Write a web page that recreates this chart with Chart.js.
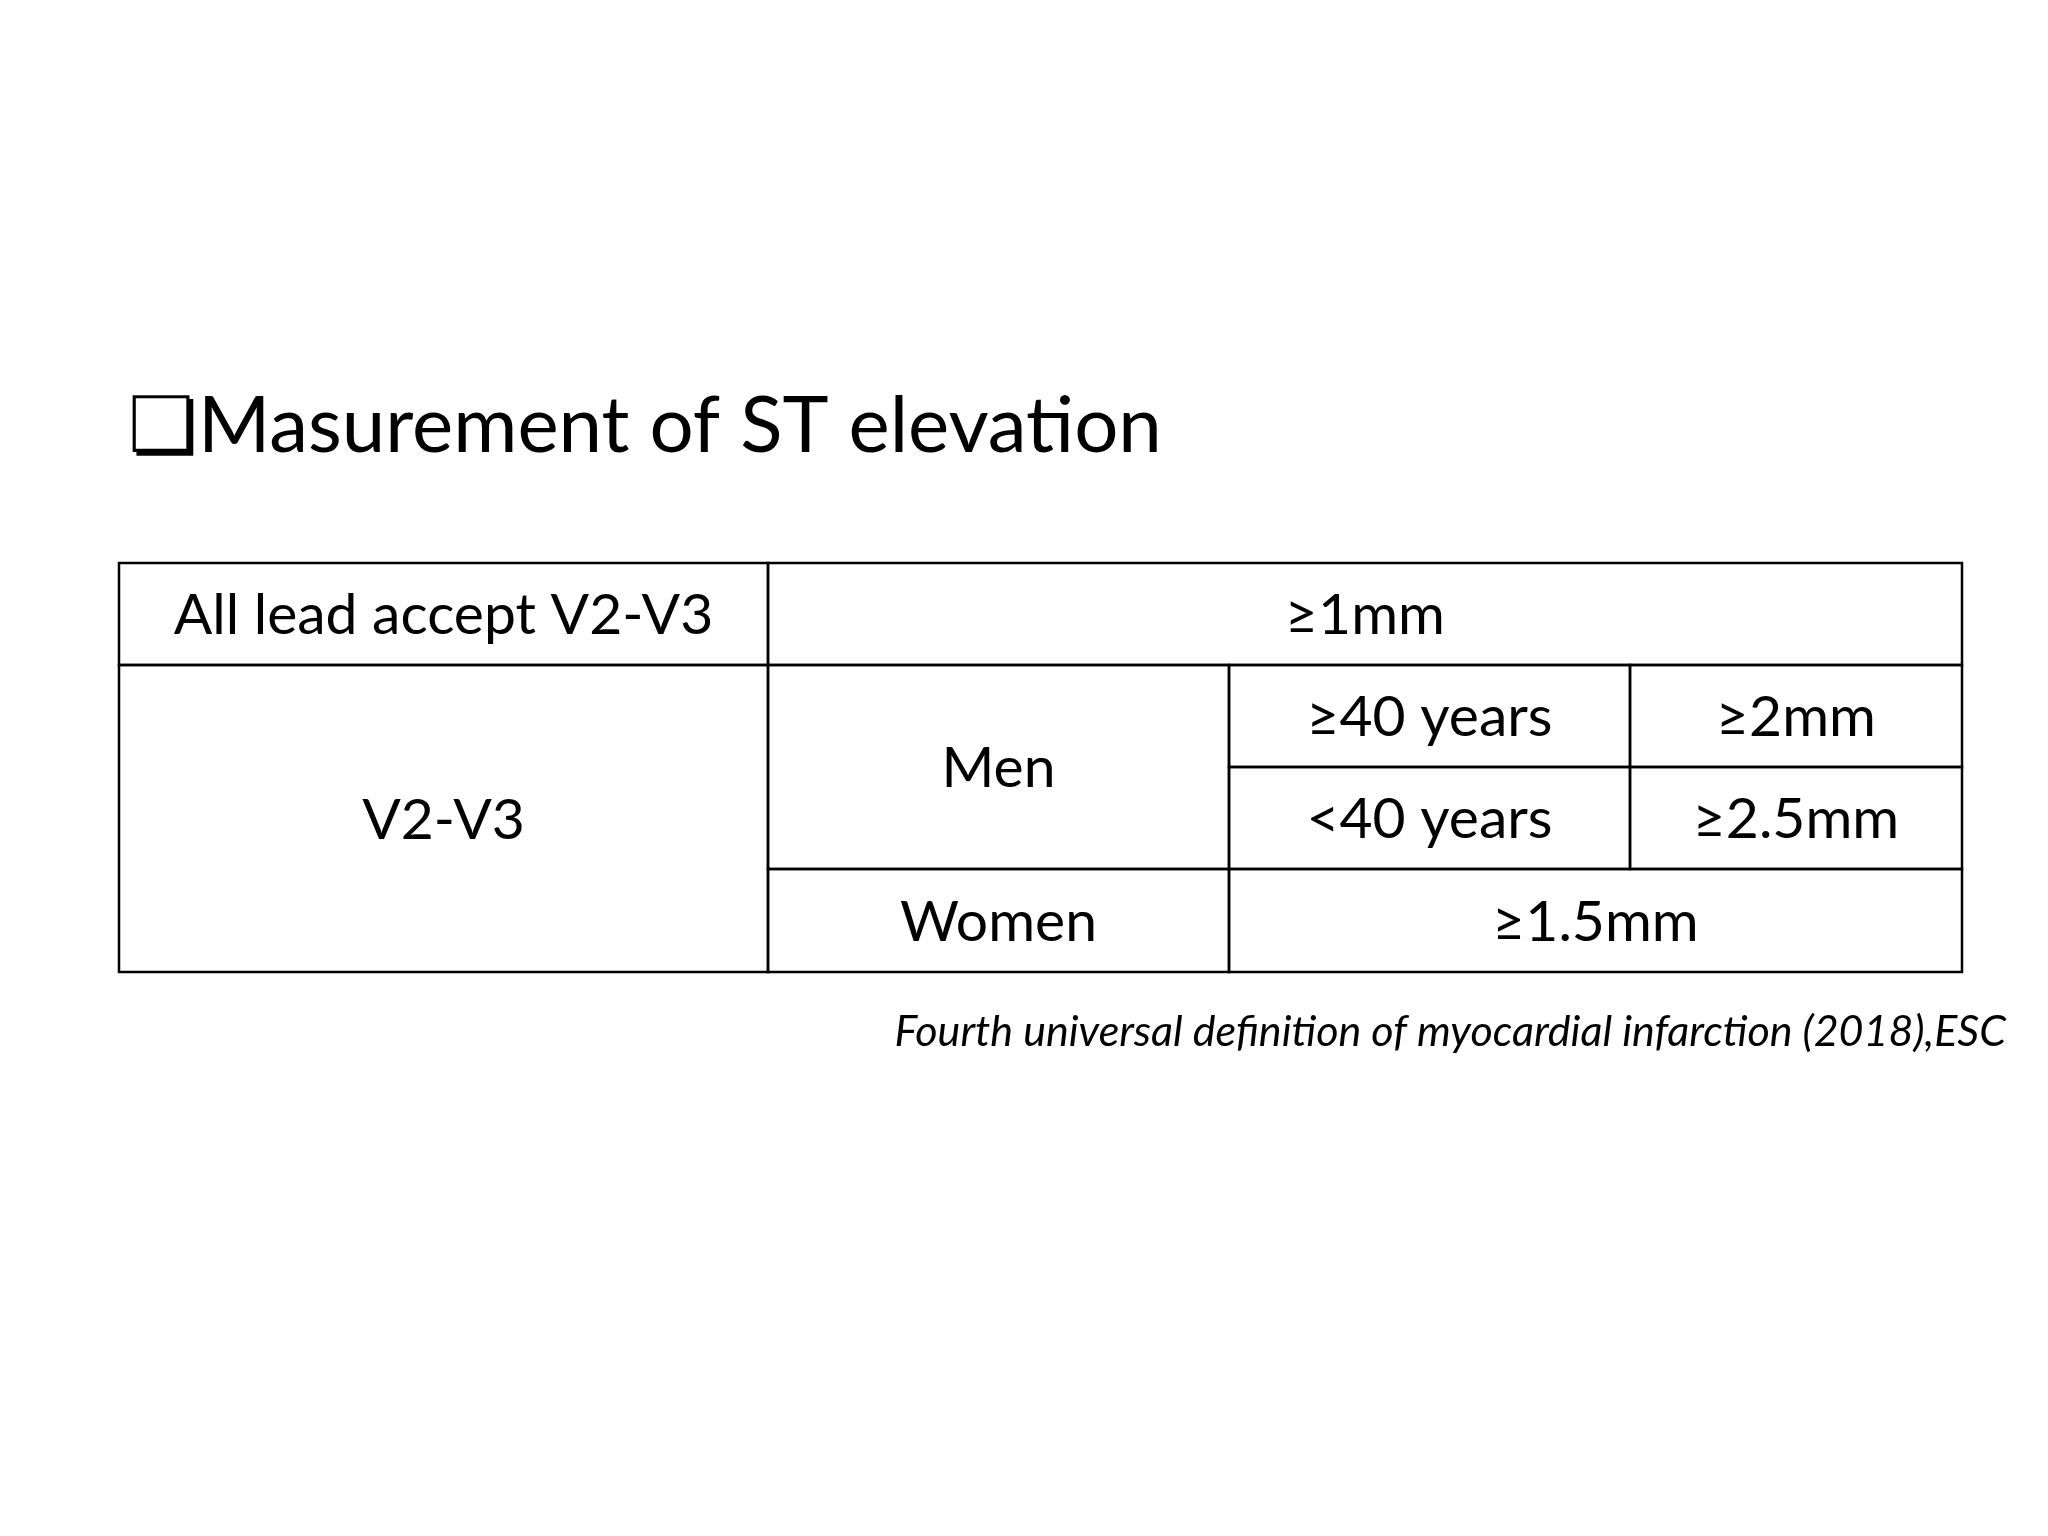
<!DOCTYPE html>
<html lang="en">
  <head>
    <meta charset="UTF-8" />
    <title>Masurement of ST elevation</title>
    <script src="https://cdn.jsdelivr.net/npm/chart.js"></script>
    <style>
      body { margin: 0; background: #ffffff; }
      .chart-container { width: 2048px; height: 1536px; }
    </style>
  </head>
  <body>
    <div class="chart-container">
      <canvas id="stTable"></canvas>
    </div>
    <script>
      // table content
      const titleText = "\u274FMasurement of ST elevation";
      const sourceText = "Fourth universal definition of myocardial infarction (2018),ESC";
      // each cell: [text, colStart, colEnd, rowStart, rowEnd]
      const cellTexts = ["All lead accept V2-V3", "\u22651mm", "V2-V3", "Men", "\u226540 years", "\u22652mm", "<40 years", "\u22652.5mm", "Women", "\u22651.5mm"];
      const cellCols = [[0, 1], [1, 4], [0, 1], [1, 2], [2, 3], [3, 4], [2, 3], [3, 4], [1, 2], [2, 4]];
      const cellRows = [[0, 1], [0, 1], [1, 4], [1, 3], [1, 2], [1, 2], [2, 3], [2, 3], [3, 4], [3, 4]];

      // layout, in page pixels (used as scale values)
      const colEdges = [119, 768, 1229, 1630, 1962];
      const rowEdges = [563, 665, 767, 869, 972];

      const tablePlugin = {
        id: "tablePlugin",
        afterDraw(chart) {
          const ctx = chart.ctx;
          const xs = chart.scales.x, ys = chart.scales.y;
          const px = (v) => xs.getPixelForValue(v);
          const py = (v) => ys.getPixelForValue(v);
          ctx.save();
          ctx.fillStyle = "#000";
          ctx.textBaseline = "middle";

          ctx.font = "78px Lato, 'Open Sans', sans-serif";
          ctx.textAlign = "left";
          ctx.fillText(titleText, px(128), py(427));

          ctx.strokeStyle = "#000";
          ctx.lineWidth = 2.5;
          ctx.font = "57px Lato, 'Open Sans', sans-serif";
          ctx.textAlign = "center";
          cellTexts.forEach((t, i) => {
            const x0 = px(colEdges[cellCols[i][0]]), x1 = px(colEdges[cellCols[i][1]]);
            const y0 = py(rowEdges[cellRows[i][0]]), y1 = py(rowEdges[cellRows[i][1]]);
            ctx.strokeRect(x0, y0, x1 - x0, y1 - y0);
            ctx.fillText(t, (x0 + x1) / 2, (y0 + y1) / 2 + 2);
          });

          ctx.font = "italic 43px Lato, 'Open Sans', sans-serif";
          ctx.textAlign = "right";
          ctx.fillText(sourceText, px(2006), py(1032));
          ctx.restore();
        },
      };

      new Chart(document.getElementById("stTable"), {
        type: "scatter",
        data: { datasets: [{ data: [], pointRadius: 0 }] },
        options: {
          responsive: true,
          maintainAspectRatio: false,
          animation: false,
          layout: { padding: 0 },
          plugins: { legend: { display: false }, tooltip: { enabled: false } },
          scales: {
            x: { type: "linear", min: 0, max: 2048, display: false },
            y: { type: "linear", min: 0, max: 1536, reverse: true, display: false },
          },
        },
        plugins: [tablePlugin],
      });
    </script>
  </body>
</html>
